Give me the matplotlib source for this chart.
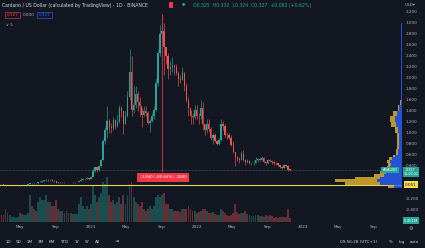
import matplotlib
matplotlib.use('Agg')
import matplotlib.pyplot as plt
import matplotlib.dates as mdates
import numpy as np
import pandas as pd

# ---------------- data ----------------
week_start = '2020-02-24'
first_open = 0.068
close = [0.058, 0.057, 0.030, 0.030, 0.030, 0.033, 0.034, 0.034, 0.038, 0.050,
         0.047, 0.049, 0.052, 0.060, 0.082, 0.078, 0.081, 0.078, 0.098, 0.112,
         0.122, 0.135, 0.140, 0.132, 0.138, 0.128, 0.118, 0.093, 0.098, 0.096,
         0.100, 0.099, 0.108, 0.104, 0.105, 0.098, 0.106, 0.107, 0.130, 0.145,
         0.152, 0.156, 0.170, 0.165, 0.200, 0.300, 0.370, 0.330, 0.390, 0.510,
         0.850, 1.050, 1.220, 1.100, 1.080, 1.230, 1.120, 1.200, 1.450, 1.400,
         1.150, 1.300, 1.650, 2.100, 1.420, 1.500, 1.700, 1.550, 1.480, 1.320,
         1.400, 1.350, 1.180, 1.220, 1.300, 1.420, 1.900, 2.450, 2.800, 2.850,
         2.550, 2.400, 2.150, 2.200, 2.220, 2.200, 2.080, 1.980, 1.950, 2.080,
         1.850, 1.600, 1.450, 1.300, 1.280, 1.420, 1.310, 1.300, 1.450, 1.150,
         1.050, 1.150, 1.060, 0.900, 0.950, 0.850, 0.800, 0.860, 1.150, 1.120,
         0.960, 0.950, 0.910, 0.770, 0.650, 0.550, 0.520, 0.510, 0.620, 0.500,
         0.470, 0.480, 0.450, 0.450, 0.450, 0.500, 0.520, 0.510, 0.540, 0.460,
         0.450, 0.500, 0.490, 0.470, 0.450, 0.440, 0.420, 0.370, 0.360, 0.410,
         0.390, 0.330, 0.327]
high = [0.070, 0.062, 0.058, 0.033, 0.034, 0.035, 0.037, 0.036, 0.040, 0.055,
        0.052, 0.051, 0.056, 0.062, 0.090, 0.086, 0.088, 0.083, 0.102, 0.124,
        0.128, 0.140, 0.152, 0.150, 0.155, 0.150, 0.132, 0.125, 0.102, 0.103,
        0.104, 0.103, 0.112, 0.110, 0.110, 0.108, 0.109, 0.110, 0.135, 0.175,
        0.170, 0.160, 0.190, 0.180, 0.210, 0.350, 0.380, 0.350, 0.410, 0.530,
        0.880, 1.100, 1.480, 1.250, 1.170, 1.290, 1.250, 1.330, 1.500, 1.480,
        1.400, 1.400, 1.750, 2.520, 2.400, 1.850, 1.850, 1.750, 1.650, 1.450,
        1.480, 1.480, 1.400, 1.250, 1.350, 1.480, 2.000, 2.500, 2.950, 3.167,
        3.000, 2.550, 2.450, 2.300, 2.380, 2.250, 2.250, 2.120, 2.050, 2.200,
        2.100, 1.900, 1.650, 1.420, 1.350, 1.500, 1.500, 1.350, 1.600, 1.550,
        1.150, 1.250, 1.250, 1.100, 1.000, 1.000, 0.870, 0.900, 1.240, 1.220,
        1.150, 1.000, 1.000, 0.950, 0.840, 0.650, 0.570, 0.560, 0.670, 0.690,
        0.530, 0.520, 0.500, 0.470, 0.480, 0.560, 0.540, 0.550, 0.580, 0.560,
        0.480, 0.520, 0.520, 0.500, 0.480, 0.470, 0.440, 0.400, 0.380, 0.430,
        0.430, 0.410, 0.345]
low = [0.055, 0.053, 0.024, 0.026, 0.028, 0.029, 0.032, 0.031, 0.033, 0.037,
       0.044, 0.041, 0.047, 0.050, 0.060, 0.072, 0.074, 0.072, 0.076, 0.095,
       0.108, 0.118, 0.125, 0.120, 0.125, 0.120, 0.110, 0.085, 0.088, 0.090,
       0.085, 0.094, 0.096, 0.100, 0.099, 0.094, 0.093, 0.100, 0.105, 0.120,
       0.145, 0.140, 0.150, 0.140, 0.165, 0.200, 0.280, 0.280, 0.310, 0.380,
       0.500, 0.800, 0.900, 0.990, 1.000, 1.050, 1.060, 1.100, 1.170, 1.280,
       0.980, 1.150, 1.280, 1.600, 1.300, 1.350, 1.450, 1.400, 1.300, 1.100,
       1.300, 1.300, 1.150, 1.020, 1.200, 1.250, 1.400, 1.850, 2.400, 2.700,
       2.050, 2.250, 1.970, 2.050, 2.100, 2.050, 2.050, 1.850, 1.900, 1.950,
       1.750, 1.550, 1.300, 1.150, 1.150, 1.250, 1.250, 1.150, 1.250, 1.050,
       0.950, 1.000, 1.020, 0.860, 0.800, 0.830, 0.780, 0.780, 0.850, 1.050,
       0.930, 0.880, 0.880, 0.750, 0.630, 0.400, 0.480, 0.450, 0.500, 0.480,
       0.410, 0.450, 0.430, 0.420, 0.410, 0.440, 0.460, 0.480, 0.500, 0.440,
       0.420, 0.430, 0.470, 0.430, 0.420, 0.410, 0.400, 0.360, 0.340, 0.350,
       0.370, 0.300, 0.310]
volume = [0.15, 0.15, 0.3, 0.2, 0.15, 0.12, 0.12, 0.1, 0.12, 0.2, 0.18, 0.15, 0.15, 0.2,
          0.6, 0.35, 0.3, 0.25, 0.45, 0.55, 0.5, 0.5, 0.6, 0.45, 0.45, 0.35, 0.35,
          0.5, 0.3, 0.25, 0.25, 0.2, 0.25, 0.2, 0.2, 0.18, 0.18, 0.18, 0.4, 0.55, 0.35, 0.3, 0.35, 0.3, 0.4,
          0.8, 0.6, 0.45, 0.55, 0.65, 0.9, 0.85, 1.0, 0.6, 0.45, 0.5, 0.4, 0.45,
          0.55, 0.4, 0.6, 0.4, 0.6, 0.85, 0.9, 0.55, 0.45,
          0.4, 0.35, 0.45, 0.3, 0.25, 0.3, 0.35, 0.3,
          0.35, 0.55, 0.6, 0.55, 0.6, 0.65, 0.4, 0.4, 0.3,
          0.3, 0.25, 0.25, 0.25, 0.22, 0.28, 0.3, 0.3, 0.35, 0.3, 0.25, 0.25, 0.2,
          0.22, 0.25, 0.3, 0.3, 0.25, 0.2, 0.2, 0.22, 0.18, 0.15, 0.15, 0.3, 0.25, 0.2, 0.15,
          0.14, 0.15, 0.2, 0.4, 0.22, 0.18, 0.2, 0.2, 0.25, 0.18, 0.15, 0.14, 0.13, 0.15, 0.15,
          0.14, 0.13, 0.12, 0.15, 0.13, 0.15, 0.13, 0.1, 0.12, 0.1, 0.12, 0.12, 0.11, 0.12, 0.3, 0.1]

# volume profile (visible range), price bins
vp_edges = [0.00, 0.05, 0.10, 0.15, 0.20, 0.25, 0.30, 0.35, 0.40, 0.45, 0.50, 0.55, 0.60,
            0.70, 0.80, 0.90, 1.00, 1.10, 1.20, 1.30, 1.40, 1.50, 1.60, 1.80, 2.00,
            2.20, 2.40, 2.60, 2.80, 3.00, 3.20]
vp_up = [8, 22, 25, 22, 18, 16, 14, 12, 11, 12, 10, 7,
         4, 3, 3, 3, 4, 6, 7, 5, 3, 1.5, 1.2, 1.0, 1.0, 0.9, 0.8, 0.8, 0.7, 0.3]
vp_down = [6, 35, 42, 25, 10, 6, 4, 3, 3, 3, 3, 2,
           2, 2, 2, 2, 3, 5, 5, 4, 1.5, 0.5, 0, 0, 0, 0, 0, 0, 0, 0]

price_ticks = [3.2, 3.0, 2.8, 2.6, 2.4, 2.2, 2.0, 1.8, 1.6, 1.4, 1.2, 1.0,
               0.8, 0.6, 0.4, -0.2, -0.4]
time_ticks = ['2020-05-01', '2020-09-01', '2021-01-01', '2021-05-01', '2021-09-01',
              '2022-01-01', '2022-05-01', '2022-09-01', '2023-01-01', '2023-05-01',
              '2023-09-01']
time_labels = ['May', 'Sep', '2021', 'May', 'Sep', '2022', 'May', 'Sep', '2023', 'May', 'Sep']

last_price = 0.327
hline_price = 0.051
peak_date = '2021-09-02'
peak_price = 3.167
measure_text = '-2.840 (-89.64%) -2840'

# ---------------- style ----------------
BG = '#131722'
UP = '#26a69a'
DN = '#ef5350'
TXT = '#b2b5be'
W, H = 425, 248

def P(x, y):
    return (x / W, 1 - y / H)

fig = plt.figure(figsize=(W / 100, H / 100), dpi=100, facecolor=BG)
ax_pos = [0, 26 / H, 402 / W, 222 / H]
ax = fig.add_axes(ax_pos)
axv = ax.twinx()
axv.set_zorder(ax.get_zorder() - 1)
ax.patch.set_visible(False)
axv.patch.set_facecolor(BG)

dates = pd.date_range(week_start, periods=len(close), freq='7D')
xs = mdates.date2num(dates) + 3
c = np.array(close)
o = np.array([first_open] + close[:-1])
hi = np.array(high)
lo = np.array(low)
cols = [UP if cc >= oo else DN for cc, oo in zip(c, o)]

# volume
vcols = [(0.149, 0.651, 0.604, 0.38) if cc >= oo else (0.937, 0.325, 0.314, 0.38) for cc, oo in zip(c, o)]
axv.bar(xs, volume, width=6.5, color=vcols, linewidth=0)
axv.set_ylim(0, 222 / 45)

# candles
ax.vlines(xs, lo, hi, colors=cols, linewidth=0.45)
body_h = np.maximum(np.abs(c - o), 0.006)
ax.bar(xs, body_h, bottom=np.minimum(o, c), width=4.6, color=cols, linewidth=0)

x0 = mdates.date2num(pd.Timestamp('2020-02-22'))
ax.set_xlim(x0, x0 + 402 / 0.2904)
ax.set_ylim(-0.624, 3.413)

# lines
ax.axhline(hline_price, color='#e6d64f', lw=0.8, zorder=1)
ax.axhline(last_price, color='#6f8f8c', lw=0.4, ls=(0, (1, 1.5)), zorder=1)
pk = mdates.date2num(pd.Timestamp(peak_date))
ax.vlines([pk], last_price - 0.05, peak_price, colors=['#c0394a'], linewidth=0.9, alpha=0.85, zorder=3)

# volume profile (widths in px-like volume units, anchored to right edge)
axp = fig.add_axes(ax_pos, sharey=ax)
axp.patch.set_visible(False)
centers = [(a + b) / 2 for a, b in zip(vp_edges[:-1], vp_edges[1:])]
heights = [b - a for a, b in zip(vp_edges[:-1], vp_edges[1:])]
axp.barh(centers, vp_up, height=heights, left=0, color='#2962ff', alpha=0.8, linewidth=0)
axp.barh(centers, vp_down, height=heights, left=vp_up, color='#e8b830', alpha=0.8, linewidth=0)
axp.set_xlim(402, 0)
axp.axis('off')

for a in (ax, axv):
    for s in a.spines.values():
        s.set_visible(False)
axv.set_yticks([])
axv.tick_params(axis='both', length=0, labelsize=0)
axv.set_xticks([])

ax.yaxis.tick_right()
ax.set_yticks(price_ticks)
ax.set_yticklabels(['%.3f' % t for t in price_ticks])
ax.tick_params(axis='y', length=0, pad=2.6, labelsize=3.0, labelcolor=TXT)
ax.set_xticks([mdates.date2num(pd.Timestamp(t)) for t in time_ticks])
ax.set_xticklabels(time_labels)
ax.tick_params(axis='x', length=0, pad=2.2, labelsize=3.0, labelcolor=TXT)

# ---------------- text overlays ----------------
fs = 3.3
fig.text(*P(2, 5), 'Cardano / US Dollar (calculated by TradingView) · 1D · BINANCE',
         color='#d1d4dc', fontsize=fs, va='center', ha='left')
fig.text(*P(171, 5), ' ', fontsize=2.5, va='center', ha='center',
         bbox=dict(boxstyle='square,pad=0.35', fc='#f23645', ec='none'))
fig.text(*P(183, 5), '●', color='#22ab94', fontsize=2.6, va='center', ha='center')
fig.text(*P(193, 5), 'O0.325  H0.332  L0.324  C0.327  +0.002 (+0.62%)',
         color='#22ab94', fontsize=fs, va='center', ha='left')

fig.text(*P(12.5, 15), '0.327', color='#f23645', fontsize=3.0, va='center', ha='center',
         bbox=dict(boxstyle='square,pad=0.35', fc=BG, ec='#f23645', lw=0.4))
fig.text(*P(29, 15), '0.000', color=TXT, fontsize=3.0, va='center', ha='center')
fig.text(*P(44.5, 15), '0.327', color='#2962ff', fontsize=3.0, va='center', ha='center',
         bbox=dict(boxstyle='square,pad=0.35', fc=BG, ec='#2962ff', lw=0.4))
fig.text(*P(6, 25), '∨ 5', color=TXT, fontsize=3.0, va='center', ha='left')

fig.text(*P(405, 5), 'USD▾', color=TXT, fontsize=3.0, va='center', ha='left')

# price labels on axis
fig.text(*P(390, 170), 'ADAUSD', color='white', fontsize=2.5, va='center', ha='center',
         bbox=dict(boxstyle='square,pad=0.3', fc=UP, ec='none'))
fig.text(*P(411, 172.3), '0.327\n15:03:32', color='white', fontsize=2.45, va='center',
         ha='center', linespacing=1.05,
         bbox=dict(boxstyle='square,pad=0.25', fc=UP, ec='none'))
fig.text(*P(411, 184.5), '0.051', color='#131722', fontsize=3.0, va='center', ha='center',
         bbox=dict(boxstyle='square,pad=0.35', fc='#f5de4a', ec='none'))
fig.text(*P(411, 220.5), '5.451M', color='white', fontsize=2.8, va='center', ha='center',
         bbox=dict(boxstyle='square,pad=0.3', fc=UP, ec='none'))
fig.text(*P(411, 229), '⚙', color=TXT, fontsize=3.6, va='center', ha='center')

fig.text(*P(163, 177.5), measure_text, color='white', fontsize=2.9, va='center', ha='center',
         bbox=dict(boxstyle='square,pad=0.6', fc='#f23645', ec='none'))

# bottom toolbar
for lab, xp in zip(['1D', '5D', '1M', '3M', '6M', 'YTD', '1Y', '5Y', 'All'],
                   [8, 19, 30, 41, 52, 64, 77, 87, 98]):
    fig.text(*P(xp, 241.7), lab, color='#d1d4dc', fontsize=3.0, va='center', ha='center')
fig.text(*P(117, 241.7), '⇥', color='#d1d4dc', fontsize=3.6, va='center', ha='center')
fig.text(*P(359, 241.7), '09:56:28 (UTC+1)', color='#d1d4dc', fontsize=3.0, va='center', ha='center')
for lab, xp in zip(['%', 'log', 'auto'], [391, 402, 414]):
    fig.text(*P(xp, 241.7), lab, color='#d1d4dc', fontsize=3.0, va='center', ha='center')

fig.savefig('out.png', dpi=100, facecolor=BG)
